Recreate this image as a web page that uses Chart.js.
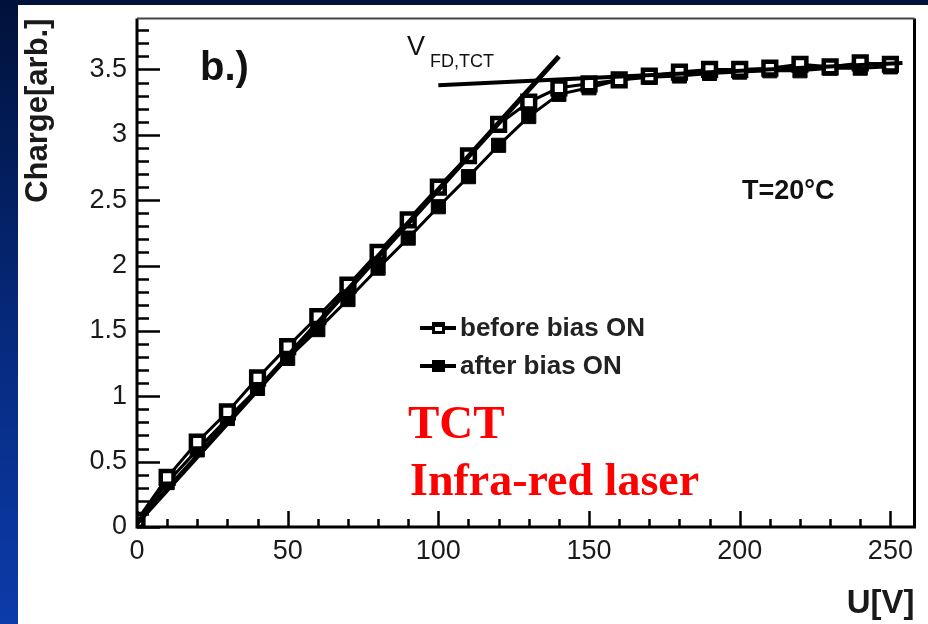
<!DOCTYPE html>
<html>
<head>
<meta charset="utf-8">
<script src="https://cdn.jsdelivr.net/npm/chart.js@4.4.1/dist/chart.umd.min.js"></script>
<style>
body { margin: 0; width: 928px; height: 624px; overflow: hidden;
       background: linear-gradient(#00123a, #062a7e 55%, #0c3caa); }
#wrap { position: absolute; left: 18px; top: 5px; width: 910px; height: 619px; background: #fff; }
</style>
</head>
<body>
<div id="wrap"><canvas id="chart-area" width="910" height="619"></canvas></div>
<script>
// bias voltage [V]
var voltage = [0,10,20,30,40,50,60,70,80,90,100,110,120,130,140,150,160,170,180,190,200,210,220,230,240,250];
// collected charge [arb.]
var beforeBias = [0.05,0.38,0.65,0.88,1.14,1.38,1.61,1.85,2.10,2.35,2.60,2.84,3.08,3.25,3.36,3.39,3.42,3.45,3.48,3.50,3.50,3.51,3.54,3.52,3.55,3.54];
var afterBias  = [0.04,0.34,0.59,0.83,1.06,1.29,1.51,1.74,1.98,2.21,2.45,2.68,2.92,3.14,3.31,3.36,3.42,3.44,3.45,3.47,3.48,3.49,3.49,3.51,3.51,3.52];
var riseFitX = [0, 140], riseFitY = [0.03, 3.6];
var flatFitX = [100, 254], flatFitY = [3.38, 3.55];

function pts(xs, ys) { return xs.map(function (x, i) { return {x: x, y: ys[i]}; }); }

var tickFont = { family: "'Liberation Sans', Arial", size: 27 };
var titleFont = { family: "'Liberation Sans', Arial", size: 33, weight: 'bold' };

function near(v, step) { return Math.abs(v / step - Math.round(v / step)) < 1e-6; }

var frame = {
    id: 'frame',
    afterDraw: function (chart) {
        var ctx = chart.ctx, a = chart.chartArea;
        var xs = chart.scales.x, ys = chart.scales.y;
        ctx.save();
        ctx.strokeStyle = '#000';
        // inward ticks
        ctx.lineWidth = 2.5;
        ys.ticks.forEach(function (t) {
            var y = Math.round(ys.getPixelForValue(t.value)) + 0.5;
            var len = near(t.value, 0.5) ? 23 : 12;
            ctx.beginPath(); ctx.moveTo(a.left, y); ctx.lineTo(a.left + len, y); ctx.stroke();
        });
        xs.ticks.forEach(function (t) {
            var x = Math.round(xs.getPixelForValue(t.value)) + 0.5;
            var len = near(t.value, 50) ? 16 : 8;
            ctx.beginPath(); ctx.moveTo(x, a.bottom); ctx.lineTo(x, a.bottom - len); ctx.stroke();
        });
        // frame
        ctx.lineWidth = 3;
        ctx.beginPath();
        ctx.moveTo(a.left, a.top); ctx.lineTo(a.left, a.bottom); ctx.lineTo(a.right, a.bottom); ctx.lineTo(a.right, a.top);
        ctx.stroke();
        ctx.lineWidth = 2;
        ctx.strokeStyle = '#444';
        ctx.beginPath(); ctx.moveTo(a.left, a.top); ctx.lineTo(a.right, a.top); ctx.stroke();

        // texts
        ctx.fillStyle = '#111';
        ctx.textBaseline = 'alphabetic';
        ctx.font = "bold 40px 'Liberation Sans', Arial";
        ctx.fillText('b.)', 182, 75);
        ctx.font = "27px 'Liberation Sans', Arial";
        ctx.fillText('V', 389, 50);
        ctx.font = "18px 'Liberation Sans', Arial";
        ctx.fillText('FD,TCT', 412, 62);
        ctx.font = "bold 27px 'Liberation Sans', Arial";
        ctx.fillText('T=20°C', 724, 194);

        // legend
        var leg = [['before bias ON', '#fff', 323], ['after bias ON', '#000', 361]];
        leg.forEach(function (l) {
            var y = l[2];
            ctx.lineWidth = 4; ctx.strokeStyle = '#000';
            ctx.beginPath(); ctx.moveTo(402, y); ctx.lineTo(438, y); ctx.stroke();
            ctx.fillStyle = '#000'; ctx.fillRect(414, y - 6, 13, 12);
            ctx.fillStyle = l[1]; ctx.fillRect(417, y - 1, 7, 4);
            ctx.fillStyle = '#222';
            ctx.font = "bold 26px 'Liberation Sans', Arial";
            ctx.textBaseline = 'middle';
            ctx.fillText(l[0], 442, y + 1);
        });

        ctx.textBaseline = 'alphabetic';
        ctx.fillStyle = '#ff0000';
        ctx.font = "bold 47px 'Liberation Serif', 'Times New Roman', serif";
        ctx.fillText('TCT', 390, 433);
        ctx.font = "bold 46px 'Liberation Serif', 'Times New Roman', serif";
        ctx.fillText('Infra-red laser', 392, 490);
        ctx.restore();
    }
};

var config = {
    type: 'scatter',
    data: {
        datasets: [{
            label: 'fit rise',
            data: pts(riseFitX, riseFitY),
            showLine: true, borderColor: '#000', borderWidth: 5, pointRadius: 0
        }, {
            label: 'fit plateau',
            data: pts(flatFitX, flatFitY),
            showLine: true, borderColor: '#000', borderWidth: 4, pointRadius: 0
        }, {
            label: 'before bias ON',
            data: pts(voltage, beforeBias),
            showLine: true, borderColor: '#000', borderWidth: 3,
            pointStyle: 'rect', pointRadius: 9, pointBorderWidth: 4.5,
            pointBackgroundColor: '#fff', pointBorderColor: '#000'
        }, {
            label: 'after bias ON',
            data: pts(voltage, afterBias),
            showLine: true, borderColor: '#000', borderWidth: 3,
            pointStyle: 'rect', pointRadius: 10, pointBorderWidth: 1,
            pointBackgroundColor: '#000', pointBorderColor: '#000'
        }]
    },
    options: {
        responsive: false,
        animation: false,
        layout: { padding: { top: 9, right: 11, left: 0, bottom: 0 } },
        plugins: { legend: { display: false }, tooltip: { enabled: false } },
        scales: {
            x: {
                type: 'linear', min: 0, max: 258,
                grid: { display: false },
                border: { display: false },
                ticks: {
                    stepSize: 10, includeBounds: false, padding: 0,
                    maxRotation: 0, autoSkip: false,
                    color: '#1a1a1a', font: tickFont,
                    callback: function (v) { return near(v, 50) ? String(v) : ''; }
                },
                title: { display: true, text: 'U[V]', align: 'end', color: '#1a1a1a', font: titleFont, padding: 0 },
                afterFit: function (s) { s.height = 97; s.paddingLeft = 0; s.paddingRight = 0; }
            },
            y: {
                type: 'linear', min: 0, max: 3.89,
                grid: { display: false },
                border: { display: false },
                ticks: {
                    stepSize: 0.1, includeBounds: false, padding: 2, autoSkip: false,
                    color: '#1a1a1a', font: tickFont,
                    callback: function (v) { return near(v, 0.5) ? String(Math.round(v * 10) / 10) : ''; }
                },
                title: { display: true, text: 'Charge[arb.]', align: 'end', color: '#1a1a1a',
                         font: { family: titleFont.family, size: 31, weight: 'bold' }, padding: 2 },
                afterFit: function (s) { s.width = 119; s.paddingTop = 0; s.paddingBottom = 0; }
            }
        }
    },
    plugins: [frame]
};

var ctx = document.getElementById('chart-area').getContext('2d');
var myChart = new Chart(ctx, config);
</script>
</body>
</html>
